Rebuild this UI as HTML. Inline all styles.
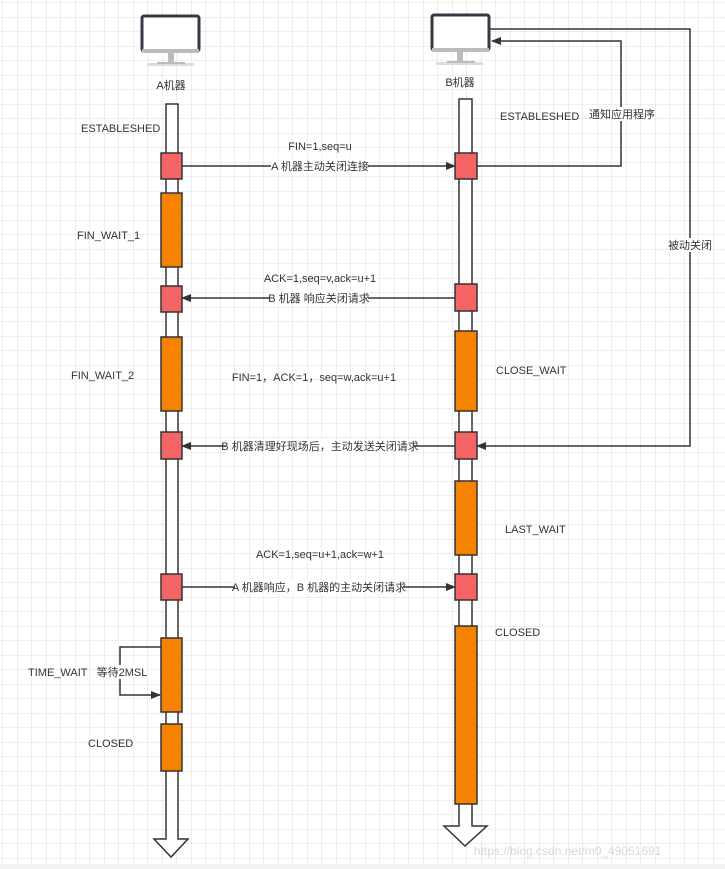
<!DOCTYPE html>
<html><head><meta charset="utf-8"><style>
html,body{margin:0;padding:0;background:#fff;}
svg{display:block;}
text{font-family:"Liberation Sans","Noto Sans CJK SC",sans-serif;font-size:11px;fill:#333;}
</style></head><body>
<svg width="725" height="869" viewBox="0 0 725 869" xmlns="http://www.w3.org/2000/svg">
<defs>
<pattern id="g" width="14.5" height="14.5" patternUnits="userSpaceOnUse" x="3" y="3">
<path d="M14.5 0V14.5H0" fill="none" stroke="#dcdcdc" stroke-width="1"/>
</pattern>
<marker id="ar" markerWidth="10" markerHeight="8" refX="9" refY="4" orient="auto" markerUnits="userSpaceOnUse">
<path d="M0 0L10 4L0 8z" fill="#333"/>
</marker>
</defs>
<rect width="725" height="869" fill="url(#g)"/>
<rect y="864" width="725" height="5" fill="#f2f2f2"/>

<!-- monitors -->
<g>
<rect x="142" y="16" width="57" height="35" rx="2" fill="#fff" stroke="#333a45" stroke-width="3"/>
<rect x="142" y="49" width="57" height="4" fill="#bbb"/>
<rect x="168" y="53" width="6" height="9" fill="#bbb"/>
<rect x="147" y="63" width="47" height="3" fill="#ddd"/>
<rect x="157" y="62" width="28" height="2" fill="#bbb"/>
</g>
<g>
<rect x="432" y="15" width="57" height="35" rx="2" fill="#fff" stroke="#333a45" stroke-width="3"/>
<rect x="432" y="48" width="57" height="4" fill="#bbb"/>
<rect x="457" y="52" width="6" height="9" fill="#bbb"/>
<rect x="436" y="62" width="47" height="3" fill="#ddd"/>
<rect x="447" y="61" width="28" height="2" fill="#bbb"/>
</g>
<text x="171" y="89" text-anchor="middle">A机器</text>
<text x="460" y="86" text-anchor="middle">B机器</text>

<!-- lifelines -->
<path d="M166 104H178V839H188L171 857L154 839H166Z" fill="#fff" stroke="#333" stroke-width="1.5"/>
<path d="M459 99H472V826H487L465 846L444 826H459Z" fill="#fff" stroke="#333" stroke-width="1.5"/>

<g stroke="#333" stroke-width="1.5">
<rect x="161" y="153" width="21" height="26" fill="#f46464"/>
<rect x="161" y="286" width="21" height="26" fill="#f46464"/>
<rect x="161" y="432" width="21" height="27" fill="#f46464"/>
<rect x="161" y="574" width="21" height="26" fill="#f46464"/>
<rect x="161" y="193" width="21" height="74" fill="#f58300"/>
<rect x="161" y="337" width="21" height="74" fill="#f58300"/>
<rect x="161" y="638" width="21" height="74" fill="#f58300"/>
<rect x="161" y="724" width="21" height="47" fill="#f58300"/>

<rect x="455" y="153" width="22" height="26" fill="#f46464"/>
<rect x="455" y="284" width="22" height="27" fill="#f46464"/>
<rect x="455" y="432" width="22" height="27" fill="#f46464"/>
<rect x="455" y="574" width="22" height="26" fill="#f46464"/>
<rect x="455" y="331" width="22" height="80" fill="#f58300"/>
<rect x="455" y="481" width="22" height="74" fill="#f58300"/>
<rect x="455" y="626" width="22" height="178" fill="#f58300"/>
</g>

<!-- arrows -->
<g stroke="#333" stroke-width="1.5" fill="none">
<line x1="182" y1="166" x2="455" y2="166" marker-end="url(#ar)"/>
<line x1="455" y1="298" x2="182" y2="298" marker-end="url(#ar)"/>
<line x1="455" y1="446" x2="182" y2="446" marker-end="url(#ar)"/>
<line x1="182" y1="587" x2="455" y2="587" marker-end="url(#ar)"/>
<polyline points="477,166 621,166 621,41 492,41" marker-end="url(#ar)"/>
<polyline points="490,29 690,29 690,446 477,446" marker-end="url(#ar)"/>
<polyline points="161,647 120,647 120,695 160,695" marker-end="url(#ar)"/>
</g>

<!-- edge labels -->
<g>
<rect x="271" y="159" width="97" height="14" fill="#fff"/>
<text x="320" y="170" text-anchor="middle">A 机器主动关闭连接</text>
<rect x="270" y="291" width="98" height="14" fill="#fff"/>
<text x="319" y="302" text-anchor="middle">B 机器 响应关闭请求</text>
<rect x="226" y="439" width="188" height="14" fill="#fff"/>
<text x="320" y="450" text-anchor="middle">B 机器清理好现场后，主动发送关闭请求</text>
<rect x="235" y="580" width="168" height="14" fill="#fff"/>
<text x="319" y="591" text-anchor="middle">A 机器响应，B 机器的主动关闭请求</text>
<rect x="590" y="107" width="64" height="14" fill="#fff"/>
<text x="622" y="118" text-anchor="middle">通知应用程序</text>
<rect x="668" y="238" width="44" height="14" fill="#fff"/>
<text x="690" y="249" text-anchor="middle">被动关闭</text>
<rect x="97" y="665" width="50" height="14" fill="#fff"/>
<text x="122" y="676" text-anchor="middle">等待2MSL</text>
</g>

<text x="320" y="150" text-anchor="middle">FIN=1,seq=u</text>
<text x="320" y="282" text-anchor="middle">ACK=1,seq=v,ack=u+1</text>
<text x="314" y="381" text-anchor="middle">FIN=1，ACK=1，seq=w,ack=u+1</text>
<text x="320" y="558" text-anchor="middle">ACK=1,seq=u+1,ack=w+1</text>

<text x="81" y="132">ESTABLESHED</text>
<text x="77" y="239">FIN_WAIT_1</text>
<text x="71" y="379">FIN_WAIT_2</text>
<text x="28" y="676">TIME_WAIT</text>
<text x="88" y="747">CLOSED</text>
<text x="500" y="120">ESTABLESHED</text>
<text x="496" y="374">CLOSE_WAIT</text>
<text x="505" y="533">LAST_WAIT</text>
<text x="495" y="636">CLOSED</text>

<text x="474" y="855" style="font-size:12px;fill:#d8d8d8">https://blog.csdn.net/m0_49051691</text>
</svg>
</body></html>
